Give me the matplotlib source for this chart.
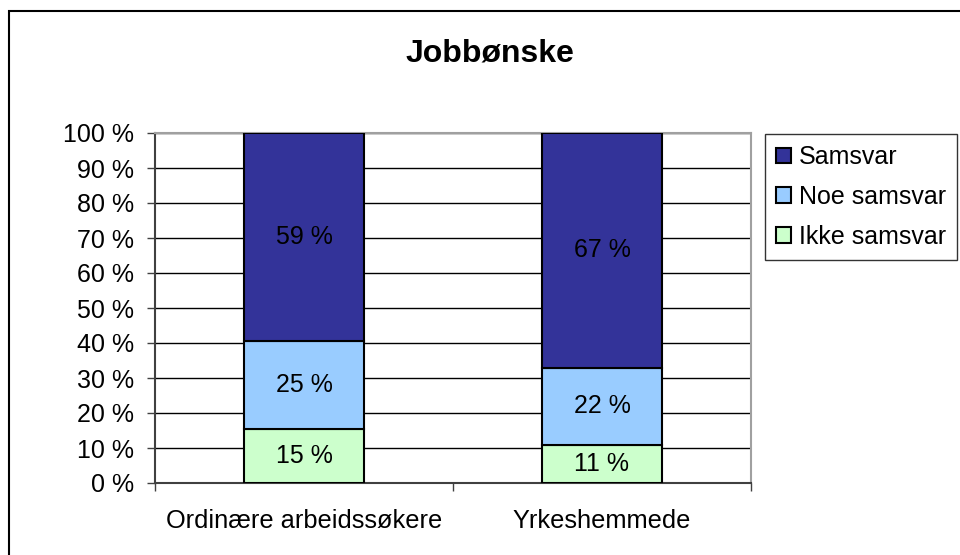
import numpy as np
import matplotlib.pyplot as plt
from matplotlib.patches import Rectangle

plt.rcParams['font.family'] = ['Liberation Sans', 'DejaVu Sans']

categories = ['Ordinære arbeidssøkere', 'Yrkeshemmede']
series = ['Ikke samsvar', 'Noe samsvar', 'Samsvar']
ikke_samsvar = [15.4, 10.8]
noe_samsvar = [25.2, 22.2]
samsvar = [59.4, 67.0]
colors = ['#CCFFCC', '#99CCFF', '#333399']
yticks = [0, 10, 20, 30, 40, 50, 60, 70, 80, 90, 100]

fig = plt.figure(figsize=(9.6, 5.55), dpi=100)
ax = fig.add_axes([155 / 960, 1 - 483 / 555, (751 - 155) / 960, (483 - 133) / 555])

x = np.arange(len(categories))
acc = np.zeros(len(categories))
handles = {}
for name, vals, col in zip(series, [ikke_samsvar, noe_samsvar, samsvar], colors):
    rects = ax.bar(x, vals, 0.4, bottom=acc, color=col, edgecolor='black',
                   linewidth=1.5, label=name, zorder=3)
    ax.bar_label(rects, labels=[f"{v:.0f} %" for v in vals], label_type='center',
                 fontsize=18)
    handles[name] = rects
    acc += vals

ax.set_xlim(-0.5, 1.5)
ax.set_ylim(0, 100)
ax.set_yticks(yticks, [f"{t} %" for t in yticks], fontsize=18)
ax.yaxis.grid(True, color='black', linewidth=1, zorder=0)
ax.tick_params(axis='y', length=6, width=1, pad=9, color='#404040')

ax.set_xticks(x, categories, fontsize=18.3)
ax.set_xticks([-0.5, 0.5, 1.5], minor=True)
ax.tick_params(axis='x', which='major', length=0, pad=19)
ax.tick_params(axis='x', which='minor', length=6, width=1, color='#404040')

for s in ['left', 'bottom']:
    ax.spines[s].set_color('#404040')
    ax.spines[s].set_linewidth(1.5)
for s in ['top', 'right']:
    ax.spines[s].set_color('#A0A0A0')
    ax.spines[s].set_linewidth(1.5)

fig.text(0.51, 1 - 53 / 555, 'Jobbønske', fontsize=23, fontweight='bold',
         ha='center', va='center')

order = ['Samsvar', 'Noe samsvar', 'Ikke samsvar']
leg = fig.legend([handles[n] for n in order], order, loc='upper left',
                 bbox_to_anchor=(765 / 960, 1 - 134 / 555), fontsize=18,
                 frameon=True, fancybox=False, edgecolor='black',
                 handlelength=0.6, handleheight=0.6, handletextpad=0.3,
                 labelspacing=0.63, borderpad=0.45, borderaxespad=0)
leg.get_frame().set_linewidth(1)

fig.patches.append(Rectangle((9 / 960, -0.1), 1.2, 1.1 - 11 / 555,
                             transform=fig.transFigure, fill=False,
                             edgecolor='black', linewidth=1.5))

fig.savefig('out.png', dpi=100)
